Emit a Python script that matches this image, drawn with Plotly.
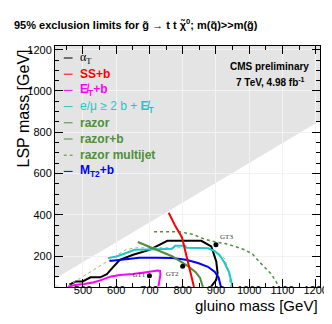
"""
Recreate CMS 95% exclusion limits plot for gluino -> t t chi0.
"""

import plotly.graph_objects as go

# Axis ranges (GeV)
x_range = [416, 1213]
y_range = [50, 1218]

# Kinematically excluded (grey) regions
forbidden_x = [416, 1213, 1213, 416]
forbidden_y = [90, 856, 1218, 1218]
corner_x = [416, 416, 431]
corner_y = [50, 64, 50]

# Exclusion curves (gluino mass, LSP mass) in GeV
alphat_x = [459, 479, 499, 523, 552, 572, 590, 611, 651, 700, 754, 856, 886, 901, 905, 901, 886]
alphat_y = [61, 77, 77, 97, 97, 112, 145, 182, 206, 230, 274, 274, 247, 174, 118, 85, 53]

ssb_x = [758, 778, 798, 812, 824, 834]
ssb_y = [410, 345, 290, 200, 120, 50]

etb_x = [454, 475, 503, 530, 552, 582, 611, 651, 690, 724, 732, 733, 730, 727]
etb_y = [50, 60, 65, 72, 82, 100, 108, 113, 122, 130, 128, 110, 80, 53]

lep_x = [575, 601, 630, 655, 700, 768, 778, 807, 812, 876, 895, 910, 925, 940, 950]
lep_y = [190, 198, 215, 230, 232, 235, 250, 250, 240, 238, 225, 206, 170, 120, 50]

razor_x = [665, 719, 768, 817, 840, 852, 861]
razor_y = [268, 230, 199, 150, 120, 95, 50]

razorb_x = [714, 790, 830, 866, 900, 935, 984, 1010, 1033, 1050, 1065, 1080, 1088]
razorb_y = [318, 318, 305, 282, 268, 258, 232, 210, 168, 140, 115, 80, 50]

multijet_x = [455, 500, 550, 600, 630, 660, 700, 760, 807, 850, 880, 905, 925, 938, 944]
multijet_y = [55, 100, 148, 200, 232, 240, 240, 240, 243, 240, 238, 215, 190, 130, 50]

mt2b_x = [580, 620, 670, 720, 768, 810, 846, 876, 896, 908, 913, 915]
mt2b_y = [176, 184, 192, 192, 190, 182, 166, 148, 124, 96, 70, 50]

# Benchmark points
gt_x = [700, 800, 900]
gt_y = [105, 150, 255]
gt_names = ["GT1", "GT2", "GT3"]
gt_pos = ["middle left", "bottom left", "top right"]

GREEN = "#4f8f3a"
LIGHT_GREEN = "#8dbb7c"
CYAN = "#1fc6c6"

curves = [
    (alphat_x, alphat_y, "black", 2, "solid"),
    (etb_x, etb_y, "#ff00ff", 2, "solid"),
    (razorb_x, razorb_y, GREEN, 1.5, "dot"),
    (multijet_x, multijet_y, LIGHT_GREEN, 1, "dot"),
    (lep_x, lep_y, CYAN, 2, "solid"),
    (mt2b_x, mt2b_y, "#0000ff", 2, "solid"),
    (razor_x, razor_y, GREEN, 2, "solid"),
    (ssb_x, ssb_y, "#ff0000", 2, "solid"),
]

# Legend entries: label, colour, dash
legend_entries = [
    ("<span style='font-family:Liberation Serif'>α<sub>T</sub></span>", "black", "solid"),
    ("<b>SS+b</b>", "#ff0000", "solid"),
    ("<b>E̸<sub>T</sub>+b</b>", "#ff00ff", "solid"),
    ("e/μ ≥ 2 b + <b>E̸<sub>T</sub></b>", CYAN, "solid"),
    ("<b>razor</b>", GREEN, "solid"),
    ("<b>razor+b</b>", GREEN, "dash"),
    ("<b>razor multijet</b>", GREEN, "dot"),
    ("<b>M<sub>T2</sub>+b</b>", "#0000ff", "solid"),
]


def to_path(xs, ys):
    pts = [f"{x},{y}" for x, y in zip(xs, ys)]
    return "M " + " L ".join(pts) + " Z"


fig = go.Figure()

for xs, ys, color, width, dash in curves:
    fig.add_trace(
        go.Scatter(
            x=xs,
            y=ys,
            mode="lines",
            line={"color": color, "width": width, "dash": dash},
            showlegend=False,
            hoverinfo="skip",
        )
    )

fig.add_trace(
    go.Scatter(
        x=gt_x,
        y=gt_y,
        mode="markers+text",
        marker={"color": "black", "size": 5},
        text=gt_names,
        textposition=gt_pos,
        textfont={"family": "Liberation Serif", "size": 7, "color": "#333333"},
        showlegend=False,
    )
)

# Grey excluded regions (below gridlines)
for xs, ys in [(forbidden_x, forbidden_y), (corner_x, corner_y)]:
    fig.add_shape(
        type="path",
        path=to_path(xs, ys),
        fillcolor="rgb(228,228,228)",
        line={"width": 0},
        layer="below",
    )

# Hand-made legend
plot_l, plot_w, plot_b, plot_h = 47, 271, 279, 241
for i, (label, color, dash) in enumerate(legend_entries):
    py = 50 + 16.2 * i
    yp = (plot_b - py) / plot_h
    fig.add_shape(
        type="line",
        xref="paper",
        yref="paper",
        x0=(56 - plot_l) / plot_w,
        x1=(65 - plot_l) / plot_w,
        y0=yp,
        y1=yp,
        line={"color": color, "width": 1, "dash": dash},
    )
    fig.add_annotation(
        text=label,
        xref="paper",
        yref="paper",
        x=(71 - plot_l) / plot_w,
        y=yp,
        xanchor="left",
        yanchor="middle",
        showarrow=False,
        font={"size": 12, "color": color},
    )

fig.add_annotation(
    text="<b>CMS preliminary</b>",
    xref="paper",
    yref="paper",
    x=(309 - plot_l) / plot_w,
    y=(plot_b - 58) / plot_h,
    xanchor="right",
    yanchor="middle",
    showarrow=False,
    font={"size": 10, "color": "black"},
)
fig.add_annotation(
    text="<b>7 TeV, 4.98 fb<sup>-1</sup></b>",
    xref="paper",
    yref="paper",
    x=(305 - plot_l) / plot_w,
    y=(plot_b - 74) / plot_h,
    xanchor="right",
    yanchor="middle",
    showarrow=False,
    font={"size": 10, "color": "black"},
)

# Axis titles, ROOT style
fig.add_annotation(
    text="gluino mass [GeV]",
    xref="paper",
    yref="paper",
    x=1.0,
    y=(plot_b - 297) / plot_h,
    xanchor="right",
    yanchor="middle",
    showarrow=False,
    font={"size": 15, "color": "black"},
)
fig.add_annotation(
    text="LSP mass [GeV]",
    xref="paper",
    yref="paper",
    x=(4 - plot_l) / plot_w,
    y=(plot_b - 39) / plot_h,
    xanchor="left",
    yanchor="top",
    textangle=-90,
    showarrow=False,
    font={"size": 16, "color": "black"},
)

axis_common = dict(
    showline=True,
    linecolor="black",
    linewidth=1,
    mirror="ticks",
    ticks="inside",
    ticklen=8,
    tickcolor="black",
    showgrid=True,
    gridcolor="rgb(242,242,242)",
    gridwidth=1,
    zeroline=False,
    tickfont={"size": 11, "color": "black"},
)

fig.update_xaxes(
    range=x_range,
    tickvals=[500, 600, 700, 800, 900, 1000, 1100, 1200],
    minor={"dtick": 50, "tick0": 0, "ticks": "inside", "ticklen": 4, "tickcolor": "black"},
    ticklabelstandoff=-7,
    **axis_common,
)
fig.update_yaxes(
    range=y_range,
    tickvals=[200, 400, 600, 800, 1000, 1200],
    minor={"dtick": 50, "tick0": 0, "ticks": "inside", "ticklen": 4, "tickcolor": "black"},
    **axis_common,
)

fig.update_layout(
    width=332,
    height=324,
    margin={"l": 47, "r": 14, "t": 38, "b": 45},
    paper_bgcolor="white",
    plot_bgcolor="white",
    font={"family": "Liberation Sans, Arial, sans-serif"},
    title={
        "text": "<b>95% exclusion limits for g̃ → t t χ̃<sup>0</sup>; m(q̃)>>m(g̃)</b>",
        "x": 6 / 332,
        "xanchor": "left",
        "xref": "container",
        "y": 1 - 17 / 324,
        "yanchor": "middle",
        "yref": "container",
        "font": {"size": 11, "color": "black"},
    },
)

fig.write_html("out.html")
